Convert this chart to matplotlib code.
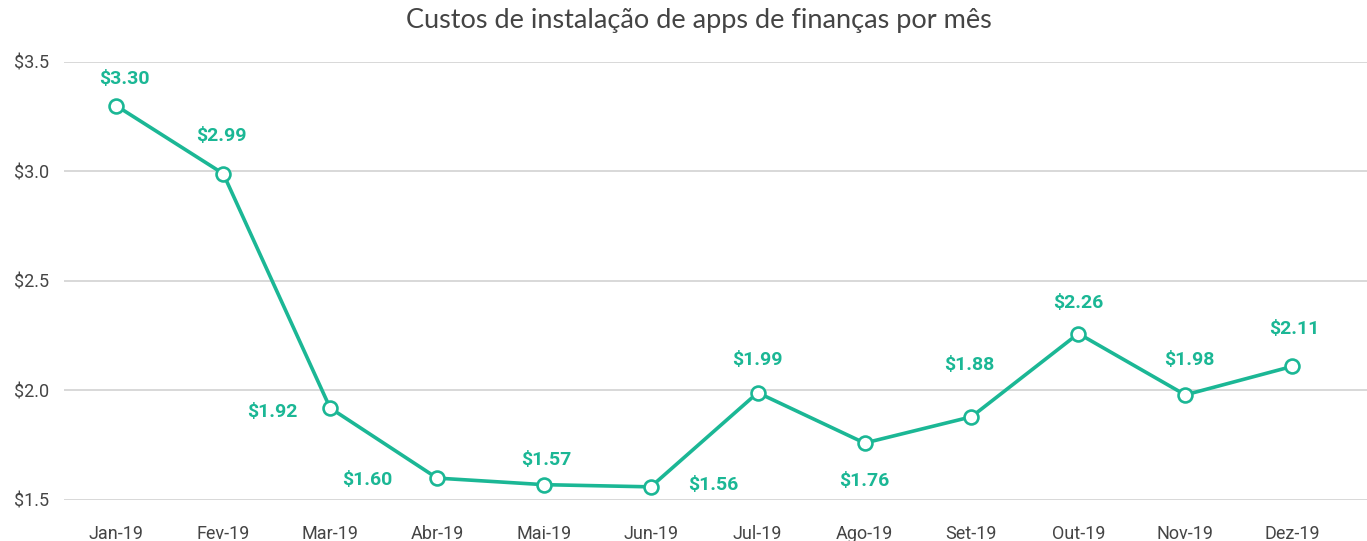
import matplotlib.pyplot as plt

meses = ['Jan-19', 'Fev-19', 'Mar-19', 'Abr-19', 'Mai-19', 'Jun-19',
         'Jul-19', 'Ago-19', 'Set-19', 'Out-19', 'Nov-19', 'Dez-19']
custos = [3.30, 2.99, 1.92, 1.60, 1.57, 1.56, 1.99, 1.76, 1.88, 2.26, 1.98, 2.11]
# deslocamento do rotulo de cada ponto (pixels)
desloc = [(8, 27), (-2, 38), (-58, -4), (-70, -2), (2, 25), (62, 2),
          (0, 33), (0, -38), (-2, 52), (0, 31), (4, 35), (2, 37)]

verde = '#1bb795'

plt.rcParams['font.family'] = ['Roboto', 'DejaVu Sans']

fig = plt.figure(figsize=(13.67, 5.41), dpi=100)
ax = fig.add_axes([0.0468, 0.0758, 0.9532, 0.8096])

x = list(range(len(meses)))
ax.plot(x, custos, color=verde, lw=2.6, marker='o', ms=10,
        mfc='white', mec=verde, mew=1.9, zorder=3, clip_on=False)

for i, v in enumerate(custos):
    ax.annotate('$%.2f' % v, (i, v), xytext=desloc[i], textcoords='offset pixels',
                ha='center', va='center', color=verde, fontsize=14,
                fontweight='bold')

ax.set_ylim(1.5, 3.5)
ax.set_xlim(-0.49, 11.7)
ax.set_yticks([1.5, 2.0, 2.5, 3.0, 3.5])
ax.set_yticklabels(['$1.5', '$2.0', '$2.5', '$3.0', '$3.5'])
ax.set_xticks(x)
ax.set_xticklabels(meses)

ax.grid(axis='y', color='#d2d2d2', lw=1.2)
ax.set_axisbelow(True)
for s in ax.spines.values():
    s.set_visible(False)
ax.tick_params(length=0, labelsize=13, labelcolor='#454545')
ax.tick_params(axis='y', pad=11)
ax.tick_params(axis='x', pad=18)

fig.text(0.511, 0.962, 'Custos de instalação de apps de finanças por mês',
         ha='center', va='center', fontsize=19.5, color='#444444',
         family=['Lato', 'DejaVu Sans'])

fig.savefig('out.png', dpi=100)
